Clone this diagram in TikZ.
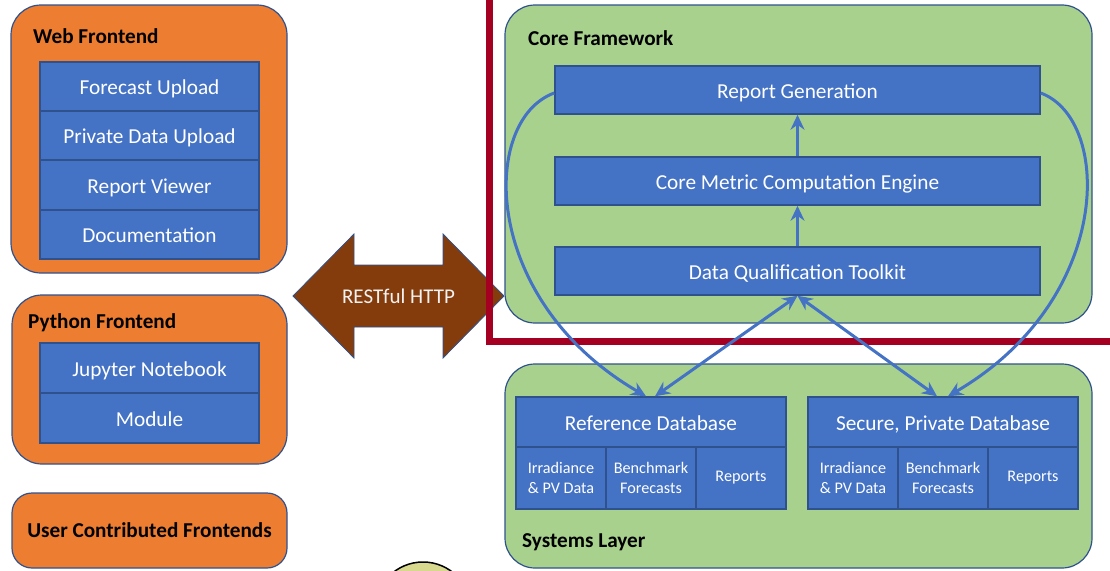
\documentclass[tikz,border=0pt]{standalone}
\usepackage{fontspec}
\setmainfont{Carlito}
\usetikzlibrary{arrows.meta}
\definecolor{frontorange}{HTML}{ED7D31}
\definecolor{cellblue}{HTML}{4472C4}
\definecolor{edgeblue}{HTML}{2F528F}
\definecolor{layergreen}{HTML}{A9D18E}
\definecolor{restbrown}{HTML}{843C0C}
\definecolor{scopered}{HTML}{A50021}
\definecolor{khaki}{HTML}{D8D88E}
\tikzset{flowtip/.tip={Stealth[length=15pt, width=14pt, inset=5pt]}}
\begin{document}
\begin{tikzpicture}[x=1pt,y=-1pt,
  container/.style={draw=edgeblue, line width=1.2pt, rounded corners=30pt, inner sep=0pt},
  frontbox/.style={container, fill=frontorange},
  layerbox/.style={container, fill=layergreen},
  cellbase/.style={draw=edgeblue, line width=1.5pt, fill=cellblue, text=white, inner sep=0pt},
  cell/.style={cellbase, text height=18pt, text depth=1.5pt,
    font=\fontsize{21.3}{25}\selectfont},
  subcell/.style={cellbase, align=center, font=\fontsize{16.2}{20}\selectfont},
  title/.style={anchor=base west, inner sep=0pt, font=\bfseries\fontsize{21.2}{25}\selectfont},
  flow/.style={draw=cellblue, line width=3pt, -{flowtip}},
  twoway/.style={draw=cellblue, line width=3pt, {flowtip}-{flowtip}}]
\useasboundingbox (0,0) rectangle (1110,570);

% ---- frontends ----
\node[frontbox, minimum width=276pt, minimum height=268pt] (web) at (149,139) {};
\node[title] (webtitle) at (33,43) {Web Frontend};
\node[cell, minimum width=219pt, minimum height=49pt] (fu) at (149.5,86.5) {Forecast Upload};
\node[cell, minimum width=219pt, minimum height=49pt] (pdu) at (149.5,135.5) {Private Data Upload};
\node[cell, minimum width=219pt, minimum height=49pt] (rv) at (149.5,185) {Report Viewer};
\node[cell, minimum width=219pt, minimum height=49pt] (doc) at (149.5,234.5) {Documentation};

\node[frontbox, minimum width=275pt, minimum height=169pt] (py) at (149.5,379.5) {};
\node[title] (pytitle) at (28,328) {Python Frontend};
\node[cell, minimum width=219pt, minimum height=50pt] (jn) at (149.5,368) {Jupyter Notebook};
\node[cell, minimum width=219pt, minimum height=50pt] (mod) at (149.5,418) {Module};

\node[frontbox, rounded corners=20pt, minimum width=275pt, minimum height=75pt,
  font=\bfseries\fontsize{21.2}{25}\selectfont] (user) at (149.5,530.5) {User Contributed Frontends};

% ---- REST interface ----
\draw[fill=restbrown, draw=edgeblue, line width=0.8pt]
  (293,296) -- (354,234) -- (354,265) -- (443,265) -- (443,234) -- (504,296)
  -- (443,358) -- (443,327) -- (354,327) -- (354,358) -- cycle;
\node[text=white!95!black, font=\fontsize{21}{25}\selectfont] (rest) at (398.5,296) {RESTful HTTP};

% ---- core framework ----
\node[layerbox, minimum width=587pt, minimum height=318pt] (core) at (798.5,164) {};
\node[title] (coretitle) at (528,45) {Core Framework};
\node[cell, minimum width=485pt, minimum height=48pt] (rg) at (797.5,90) {Report Generation};
\node[cell, minimum width=485pt, minimum height=48pt] (cm) at (797.5,181) {Core Metric Computation Engine};
\node[cell, minimum width=485pt, minimum height=48pt] (dq) at (797.5,271) {Data Qualification Toolkit};

% ---- systems layer ----
\node[layerbox, minimum width=587pt, minimum height=204pt] (sys) at (798.5,466) {};
\node[title] (systitle) at (522,547) {Systems Layer};
\node[cell, minimum width=270pt, minimum height=50pt] (refdb) at (651,422) {Reference Database};
\node[subcell, minimum width=90pt, minimum height=62pt] (refirr) at (561,478) {Irradiance\\\& PV Data};
\node[subcell, minimum width=90pt, minimum height=62pt] (refbm) at (651,478) {Benchmark\\Forecasts};
\node[subcell, minimum width=90pt, minimum height=62pt] (refrep) at (741,478) {Reports};
\node[cell, minimum width=270pt, minimum height=50pt] (secdb) at (943,422) {Secure, Private Database};
\node[subcell, minimum width=90pt, minimum height=62pt] (secirr) at (853,478) {Irradiance\\\& PV Data};
\node[subcell, minimum width=90pt, minimum height=62pt] (secbm) at (943,478) {Benchmark\\Forecasts};
\node[subcell, minimum width=90pt, minimum height=62pt] (secrep) at (1033,478) {Reports};

% ---- scope outline ----
\draw[scopered, line width=7pt] (489,-10) -- (489,341) -- (1125,341);

% ---- data flow ----
\draw[flow] (dq.north) -- (cm.south);
\draw[flow] (cm.north) -- (rg.south);
\draw[twoway] (dq.south) -- ([xshift=4pt]refdb.north);
\draw[twoway] (dq.south) -- ([xshift=-6pt]secdb.north);
\draw[flow] ([yshift=-3pt]rg.west) .. controls (480,120) and (480,300) .. ([xshift=-5pt]refdb.north);
\draw[flow] ([yshift=-3pt]rg.east) .. controls (1113,120) and (1113,300) .. ([xshift=5pt]secdb.north);

% ---- partly visible disc ----
\draw[black, line width=1.5pt, fill=khaki] (423,610) circle (48pt);
\end{tikzpicture}
\end{document}
